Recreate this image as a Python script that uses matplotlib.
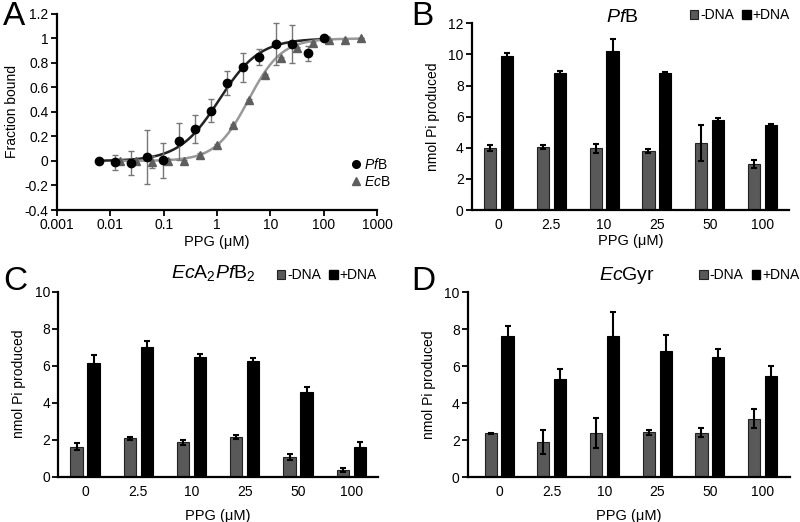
import numpy as np
import matplotlib
matplotlib.use("Agg")
import matplotlib.pyplot as plt
from matplotlib.patches import Patch
from matplotlib.lines import Line2D
from matplotlib.ticker import FuncFormatter, NullLocator

plt.rcParams["font.family"] = ["Liberation Sans", "DejaVu Sans"]
plt.rcParams["mathtext.fontset"] = "custom"
plt.rcParams["mathtext.rm"] = "Liberation Sans"
plt.rcParams["mathtext.it"] = "Liberation Sans:italic"
plt.rcParams["axes.unicode_minus"] = False

# ---- panel A: binding data ----
pfb_x = [0.006, 0.012, 0.024, 0.048, 0.098, 0.195, 0.39, 0.78, 1.56, 3.125,
         6.25, 12.5, 25, 50, 100]
pfb_y = [0.0, -0.01, -0.015, 0.035, 0.005, 0.16, 0.26, 0.41, 0.635, 0.765,
         0.85, 0.955, 0.955, 0.88, 1.0]
pfb_err = [0.0, 0.063, 0.1, 0.22, 0.145, 0.15, 0.115, 0.095, 0.1, 0.12,
           0.065, 0.17, 0.155, 0.06, 0.0]

ecb_x = [0.0153, 0.0305, 0.061, 0.122, 0.244, 0.488, 0.977, 1.95, 3.9, 7.8,
         15.6, 31.25, 62.5, 125, 250, 500]
ecb_y = [0.0, 0.0, -0.01, 0.0, 0.0, 0.045, 0.13, 0.29, 0.50, 0.70,
         0.84, 0.92, 0.96, 0.99, 0.99, 1.0]
ecb_err = [0.02, 0.02, 0.05, 0.02, 0.01, 0.02, 0.01, 0.01, 0.01, 0.01,
           0.01, 0.01, 0.01, 0.0, 0.0, 0.0]

# Hill fit parameters (K, n)
pfb_fit = (1.1, 1.15)
ecb_fit = (3.9, 1.4)

# ---- panels B-D: ATPase data ----
ppg_labels = ["0", "2.5", "10", "25", "50", "100"]

b_minus = [3.96, 4.07, 3.96, 3.81, 4.33, 2.94]
b_minus_err = [0.2, 0.12, 0.3, 0.12, 1.15, 0.25]
b_plus = [9.92, 8.83, 10.24, 8.79, 5.79, 5.46]
b_plus_err = [0.2, 0.1, 0.75, 0.1, 0.12, 0.06]

c_minus = [1.62, 2.07, 1.86, 2.16, 1.05, 0.36]
c_minus_err = [0.2, 0.1, 0.15, 0.1, 0.15, 0.1]
c_plus = [6.16, 7.03, 6.49, 6.25, 4.58, 1.59]
c_plus_err = [0.42, 0.33, 0.15, 0.18, 0.27, 0.27]

d_minus = [2.37, 1.9, 2.39, 2.42, 2.39, 3.16]
d_minus_err = [0.02, 0.65, 0.8, 0.13, 0.25, 0.5]
d_plus = [7.6, 5.28, 7.6, 6.82, 6.46, 5.46]
d_plus_err = [0.54, 0.58, 1.3, 0.87, 0.45, 0.54]

GRAY_BAR = "#595959"
FS = 10


def hill(x, k, n):
    return x ** n / (k ** n + x ** n)


def style_axes(ax):
    for s in ["top", "right"]:
        ax.spines[s].set_visible(False)
    for s in ["left", "bottom"]:
        ax.spines[s].set_linewidth(1.6)
    ax.tick_params(direction="out", length=4, width=1.3, labelsize=FS, pad=2)


def bar_panel(ax, minus, minus_err, plus, plus_err, ymax, xlim, title, title_pos,
              leg_pos, xlabelpad):
    x = np.arange(len(ppg_labels))
    w = 0.23
    off = 0.16
    ekw = dict(ecolor="black", elinewidth=1.5, capsize=2.5, capthick=1.5)
    ax.bar(x - off, minus, w, yerr=minus_err, color=GRAY_BAR, edgecolor="#222222",
           linewidth=0.8, error_kw=ekw)
    ax.bar(x + off, plus, w, yerr=plus_err, color="black", edgecolor="black",
           linewidth=0.8, error_kw=ekw)
    style_axes(ax)
    ax.tick_params(axis="x", length=0, pad=6)
    ax.set_xticks(x)
    ax.set_xticklabels(ppg_labels)
    ax.set_xlim(*xlim)
    ax.set_ylim(0, ymax)
    ax.set_yticks(np.arange(0, ymax + 0.1, 2))
    ax.set_ylabel("nmol Pi produced", fontsize=FS, labelpad=6)
    ax.set_xlabel("PPG (μM)", fontsize=FS + 0.5, labelpad=xlabelpad)
    ax.text(title_pos[0], title_pos[1], title, transform=ax.transAxes,
            ha="center", va="center", fontsize=14)
    handles = [Patch(facecolor=GRAY_BAR, edgecolor="#222222", linewidth=0.8),
               Patch(facecolor="black", edgecolor="black")]
    ax.legend(handles, ["-DNA", "+DNA"], ncol=2, loc="center right",
              bbox_to_anchor=leg_pos, frameon=False, fontsize=FS,
              handlelength=0.6, handleheight=0.6, handletextpad=0.15,
              columnspacing=0.6, borderpad=0, borderaxespad=0)


fig = plt.figure(figsize=(8, 5.22), dpi=100)

# ---------- A ----------
axA = fig.add_axes([0.0713, 0.5977, 0.4, 0.3755])
xf1 = np.logspace(np.log10(0.006), 2, 300)
xf2 = np.logspace(np.log10(0.015), np.log10(500), 300)
axA.plot(xf1, hill(xf1, *pfb_fit), color="#222222", lw=1.8, zorder=2)
axA.plot(xf2, hill(xf2, *ecb_fit), color="#999999", lw=1.8, zorder=2)
axA.errorbar(pfb_x, pfb_y, yerr=pfb_err, fmt="none", ecolor="#777777",
             elinewidth=1, capsize=2.5, capthick=1, zorder=3)
axA.errorbar(ecb_x, ecb_y, yerr=ecb_err, fmt="none", ecolor="#777777",
             elinewidth=1, capsize=2.5, capthick=1, zorder=3)
axA.plot(ecb_x, ecb_y, "^", color="#5e5e5e", ms=6, ls="none", zorder=4)
axA.plot(pfb_x, pfb_y, "o", color="black", ms=6, ls="none", zorder=5)
axA.set_xscale("log")
axA.set_xlim(0.001, 1000)
axA.set_ylim(-0.4, 1.2)
axA.set_yticks(np.arange(-0.4, 1.21, 0.2))
axA.yaxis.set_major_formatter(FuncFormatter(lambda v, p: "%g" % round(v, 1)))
axA.set_xticks([0.001, 0.01, 0.1, 1, 10, 100, 1000])
axA.xaxis.set_major_formatter(FuncFormatter(lambda v, p: "%g" % v))
axA.xaxis.set_minor_locator(NullLocator())
style_axes(axA)
axA.set_ylabel("Fraction bound", fontsize=FS, labelpad=4)
axA.set_xlabel("PPG (μM)", fontsize=FS + 0.5, labelpad=2)
leg_h = [Line2D([], [], marker="o", color="black", ls="none", ms=5.5),
         Line2D([], [], marker="^", color="#5e5e5e", ls="none", ms=5.5)]
axA.legend(leg_h, [r"$\it{Pf}$B", r"$\it{Ec}$B"], loc="center left",
           bbox_to_anchor=(0.92, 0.19), frameon=False, fontsize=FS,
           handlelength=0.6, handletextpad=0.3, labelspacing=0.25,
           borderpad=0, borderaxespad=0)

# ---------- B ----------
axB = fig.add_axes([0.59, 0.5977, 0.3963, 0.3577])
bar_panel(axB, b_minus, b_minus_err, b_plus, b_plus_err, 12, (-0.5, 5.5),
          r"$\it{Pf}$B", (0.473, 1.03), (1.003, 1.044), 1)

# ---------- C ----------
axC = fig.add_axes([0.073, 0.0868, 0.3995, 0.3544])
bar_panel(axC, c_minus, c_minus_err, c_plus, c_plus_err, 10, (-0.5, 5.5),
          r"$\it{Ec}$A$_2$$\it{Pf}$B$_2$", (0.484, 1.10), (0.997, 1.09), 7)

# ---------- D ----------
axD = fig.add_axes([0.585, 0.0862, 0.4025, 0.3544])
bar_panel(axD, d_minus, d_minus_err, d_plus, d_plus_err, 10, (-0.59, 5.52),
          r"$\it{Ec}$Gyr", (0.494, 1.09), (1.03, 1.092), 7)

# panel letters
for lab, (x, y) in {"A": (0.004, 0.998), "B": (0.514, 0.998),
                    "C": (0.004, 0.49), "D": (0.514, 0.49)}.items():
    fig.text(x, y, lab, fontsize=24, ha="left", va="top")

fig.savefig("out.png", dpi=100)
